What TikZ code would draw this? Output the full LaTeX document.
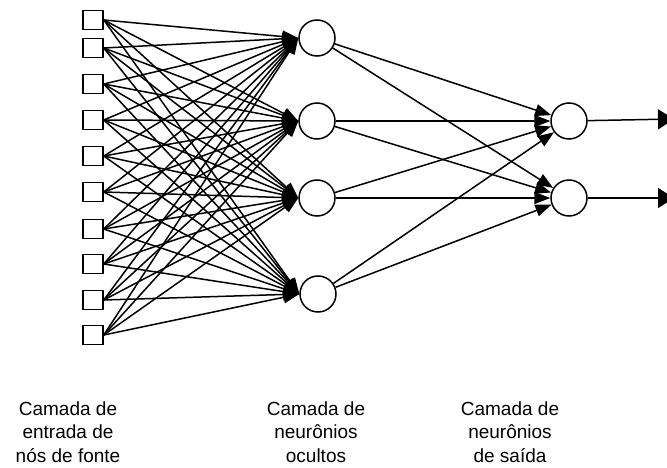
\documentclass[tikz,border=0pt]{standalone}
\usepackage{fontspec}
\setmainfont{Liberation Sans}
\usetikzlibrary{arrows.meta}
\begin{document}
\begin{tikzpicture}[x=1pt,y=-1pt,
  inbox/.style={draw,line width=1.5pt,minimum width=20pt,minimum height=19pt,inner sep=0pt},
  neuron/.style={draw,circle,line width=1.5pt,minimum size=36pt,inner sep=0pt},
  conn/.style={line width=1.5pt,-{Triangle[length=16pt,width=12pt]}},
  outarr/.style={line width=1.5pt,-{Triangle[length=16pt,width=20pt]}},
  lbl/.style={align=center,font=\fontsize{19pt}{23.5pt}\selectfont,inner sep=0pt}]
\useasboundingbox (0,0) rectangle (667,468);
% input squares
\foreach \i/\y in {1/20,2/48,3/84,4/120,5/156,6/192,7/229,8/264,9/300,10/335}
  \node[inbox] (i\i) at (93,\y) {};
% hidden neurons
\node[neuron] (h1) at (317,38) {};
\node[neuron] (h2) at (317,121) {};
\node[neuron] (h3) at (317,198) {};
\node[neuron] (h4) at (318,294) {};
% output neurons
\node[neuron] (o1) at (569,121) {};
\node[neuron] (o2) at (569,198) {};
\coordinate (e1) at (674,119);
\coordinate (e2) at (674,198);
% input -> hidden
\foreach \i in {1,...,10}
  \foreach \j in {1,...,4}
    \draw[conn] (i\i.east) -- (h\j.west);
% hidden -> output
\draw[conn] (h1) -- (o1);
\draw[conn] (h1) -- (o2);
\draw[conn] (h2) -- (o1);
\draw[conn] (h2) -- (o2);
\draw[conn] (h3) -- (o1);
\draw[conn] (h3) -- (o2);
\draw[conn] (h4) -- (o1.217);
\draw[conn] (h4) -- (o2);
% outputs
\draw[outarr] (o1) -- (e1);
\draw[outarr] (o2) -- (e2);
% labels
\node[lbl] (l1) at (68,432) {Camada de\\entrada de\\nós de fonte};
\node[lbl] (l2) at (316,432) {Camada de\\neurônios\\ocultos};
\node[lbl] (l3) at (510,432) {Camada de\\neurônios\\de saída};
\end{tikzpicture}
\end{document}
